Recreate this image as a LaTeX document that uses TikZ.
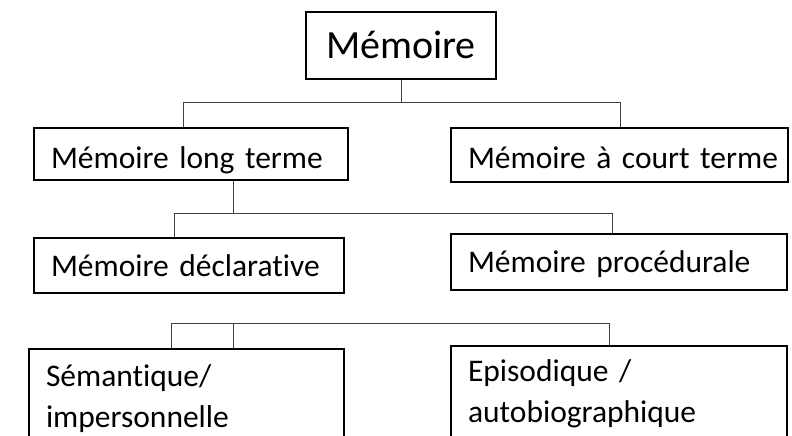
\documentclass[tikz,border=0pt]{standalone}
\usepackage{fontspec}
\setmainfont{Carlito}[Ligatures=NoCommon]
\usepackage{tikz}
\newcommand\boxfont{\fontsize{31.5}{41}\selectfont\spaceskip=5pt\relax}

\begin{document}
\begin{tikzpicture}[x=1pt, y=-1pt,
    box/.style={draw, line width=2pt, inner xsep=17pt, inner ysep=0pt, align=left, anchor=base west, font=\boxfont},
    link/.style={line width=1pt, black!75}]
    \useasboundingbox (0,0) rectangle (792,436);
    \clip (0,0) rectangle (792,436);
    \node[box, align=center, inner xsep=15pt, text width=160pt, text height=47pt, text depth=20pt, font=\fontsize{40}{48}\selectfont] (mem) at (305,59) {Mémoire};
    \node[box, text width=280pt, text height=40pt, text depth=12pt] (mlt) at (33,168) {\mbox{Mémoire long terme}};
    \node[box, text width=303pt, text height=40pt, text depth=14pt] (mct) at (450,168) {\mbox{Mémoire à court terme}};
    \node[box, text width=276pt, text height=38pt, text depth=17pt] (decl) at (33,276) {\mbox{Mémoire déclarative}};
    \node[box, text width=302pt, text height=38pt, text depth=18pt] (proc) at (450,272) {\mbox{Mémoire procédurale}};
    \node[box, text width=281pt, text height=37pt, text depth=90pt] (sem) at (28,386) {Sémantique/\\impersonnelle};
    \node[box, text width=302pt, text height=35pt, text depth=90pt] (epi) at (450,381) {Episodique /\\autobiographique};
    \coordinate (a1) at (183,102);
    \coordinate (a2) at (620,102);
    \coordinate (b0) at (233,213);
    \coordinate (b1) at (174,213);
    \coordinate (b2) at (612,213);
    \coordinate (c0) at (233,323);
    \coordinate (c1) at (171,323);
    \coordinate (c2) at (609,323);
    \draw[link] (mem.south) -- (mem.south |- a1);
    \draw[link] (mlt.north -| a1) |- (a2) -- (mct.north -| a2);
    \draw[link] (mlt.south -| b0) -- (b0);
    \draw[link] (decl.north -| b1) |- (b2) -- (proc.north -| b2);
    \draw[link] (sem.north -| c1) |- (c2) -- (epi.north -| c2);
    \draw[link] (c0) -- (sem.north -| c0);
\end{tikzpicture}
\end{document}
